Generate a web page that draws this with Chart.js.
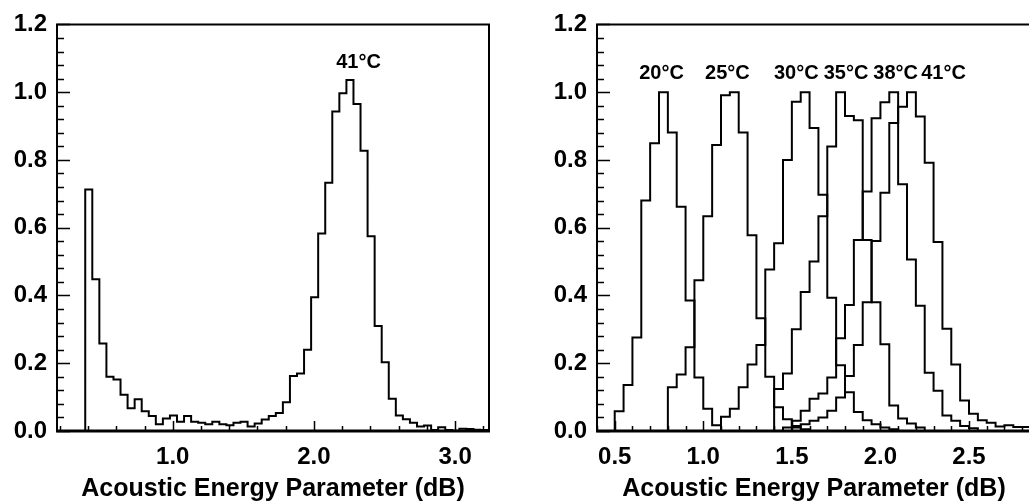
<!DOCTYPE html>
<html>
<head>
<meta charset="utf-8">
<script src="https://cdn.jsdelivr.net/npm/chart.js@4.4.0/dist/chart.umd.min.js"></script>
<style>
  html, body { margin: 0; padding: 0; background: #fff; overflow: hidden; width: 1029px; height: 502px; }
  .box { position: absolute; top: 0; height: 502px; }
  #left { left: 0; width: 491px; }
  #right { left: 540px; width: 493px; }
</style>
</head>
<body>
<div class="box" id="left"><canvas id="leftChart"></canvas></div>
<div class="box" id="right"><canvas id="rightChart"></canvas></div>
<script>
// histogram bins are 0.05 dB wide; each series = first bin edge + bin heights
const binWidth = 0.05;

// left panel: 41°C only
const leftStart = 0.38;
const left41 = [0.713, 0.448, 0.258, 0.160, 0.152, 0.107, 0.067, 0.094, 0.058, 0.044,
  0.020, 0.037, 0.046, 0.027, 0.044, 0.027, 0.024, 0.020, 0.027, 0.020,
  0.017, 0.024, 0.027, 0.013, 0.022, 0.034, 0.044, 0.053, 0.085, 0.162,
  0.170, 0.240, 0.395, 0.583, 0.733, 0.943, 0.997, 1.036, 0.965, 0.827,
  0.575, 0.310, 0.203, 0.095, 0.046, 0.035, 0.024, 0.013, 0.016, 0.003,
  0.011, 0.003, 0.001, 0.007, 0.006, 0.004, 0.003];

// right panel: one histogram per temperature
const tempLabels = ['20°C', '25°C', '30°C', '35°C', '38°C', '41°C'];
const tempStarts = [0.50, 0.80, 1.10, 1.40, 1.45, 1.50];
const h20 = [0.058, 0.136, 0.276, 0.680, 0.849, 1.000, 0.881, 0.662, 0.385, 0.158, 0.066, 0.017];
const h25 = [0.129, 0.167, 0.247, 0.445, 0.634, 0.844, 0.991, 1.000, 0.881, 0.578, 0.333, 0.160, 0.070, 0.035, 0.015, 0.005];
const h30 = [0.042, 0.066, 0.129, 0.196, 0.254, 0.477, 0.554, 0.800, 0.972, 1.000, 0.894, 0.697, 0.393, 0.194, 0.114, 0.056, 0.032, 0.020, 0.010, 0.005];
const h35 = [0.124, 0.170, 0.300, 0.410, 0.500, 0.634, 0.840, 1.000, 0.930, 0.917, 0.564, 0.380, 0.256, 0.075, 0.037, 0.022, 0.010];
const h38 = [0.010, 0.030, 0.060, 0.095, 0.111, 0.158, 0.274, 0.372, 0.564, 0.707, 0.923, 0.970, 1.000, 0.728, 0.506, 0.370, 0.172, 0.119, 0.046, 0.030, 0.015, 0.008];
const h41 = [0.010, 0.020, 0.030, 0.040, 0.060, 0.099, 0.162, 0.254, 0.380, 0.561, 0.703, 0.909, 0.957, 1.000, 0.928, 0.792, 0.558, 0.302, 0.196, 0.090, 0.051, 0.032, 0.024, 0.013, 0.017, 0.012, 0.012];
const rightSeries = [h20, h25, h30, h35, h38, h41];

// peak labels (data coords)
const leftLabelX = [2.316];
const leftLabelY = 1.087;
const rightLabelX = [0.764, 1.136, 1.525, 1.806, 2.086, 2.356];
const rightLabelY = 1.056;

const yTicks = [0, 0.2, 0.4, 0.6, 0.8, 1.0, 1.2];
const leftXTicks = [1.0, 2.0, 3.0];
const rightXTicks = [0.5, 1.0, 1.5, 2.0, 2.5];

const FONT = '"Liberation Sans", Arial, Helvetica, sans-serif';

// outline of a step histogram
function histPoints(start, heights) {
  const pts = [{ x: start, y: 0 }];
  heights.forEach((h, i) => pts.push({ x: start + i * binWidth, y: h }));
  pts.push({ x: start + heights.length * binWidth, y: 0 });
  return pts;
}

function histDataset(start, heights) {
  return {
    data: histPoints(start, heights),
    stepped: 'before',
    borderColor: '#000',
    borderWidth: 2,
    pointRadius: 0,
    fill: false,
    tension: 0
  };
}

// frame, inner ticks, peak labels
const framePlugin = {
  id: 'frame',
  afterDatasetsDraw(chart, args, opts) {
    const { ctx, chartArea: a, scales: { x, y } } = chart;
    ctx.save();
    ctx.strokeStyle = '#000';
    ctx.lineWidth = 2;
    ctx.beginPath();
    ctx.moveTo(a.left, a.bottom);
    ctx.lineTo(a.left, a.top);
    ctx.lineTo(a.right, a.top);
    if (opts.rightEdge) ctx.lineTo(a.right, a.bottom);
    ctx.stroke();
    ctx.lineWidth = 3;
    ctx.beginPath();
    ctx.moveTo(a.left - 1, a.bottom);
    ctx.lineTo(a.right + 1, a.bottom);
    ctx.stroke();

    ctx.lineWidth = 1.5;
    ctx.beginPath();
    for (let i = 0; i <= 30; i++) {
      const py = Math.round(y.getPixelForValue(i * 0.04)) + 0.5;
      const len = i % 5 === 0 ? 13 : 7;
      ctx.moveTo(a.left, py);
      ctx.lineTo(a.left + len, py);
    }
    const k0 = Math.ceil(x.min / opts.xMinor - 1e-6);
    const k1 = Math.floor(x.max / opts.xMinor + 1e-6);
    for (let k = k0; k <= k1; k++) {
      const v = k * opts.xMinor;
      const r = v / opts.xMajor;
      const major = Math.abs(r - Math.round(r)) < 1e-6;
      const px = Math.round(x.getPixelForValue(v)) + 0.5;
      ctx.moveTo(px, a.bottom);
      ctx.lineTo(px, a.bottom - (major ? 10 : 5));
    }
    ctx.stroke();

    ctx.fillStyle = '#000';
    ctx.font = 'bold 20px ' + FONT;
    ctx.textAlign = 'center';
    ctx.textBaseline = 'middle';
    opts.labels.forEach((t, i) => {
      ctx.fillText(t, x.getPixelForValue(opts.labelX[i]), y.getPixelForValue(opts.labelY));
    });
    ctx.restore();
  }
};

function makeOptions(xMin, xMax, xTicks, xMinor, xMajor, labels, labelX, labelY, rightEdge) {
  return {
    responsive: true,
    maintainAspectRatio: false,
    animation: false,
    layout: { padding: { top: 17, right: 2, left: 0, bottom: 0 } },
    plugins: {
      legend: { display: false },
      tooltip: { enabled: false },
      frame: { xMinor, xMajor, labels, labelX, labelY, rightEdge }
    },
    scales: {
      x: {
        type: 'linear',
        min: xMin,
        max: xMax,
        afterFit: s => { s.height = 71; },
        afterBuildTicks: s => { s.ticks = xTicks.map(v => ({ value: v })); },
        grid: { display: false, drawTicks: false },
        border: { display: false },
        ticks: {
          autoSkip: false,
          maxRotation: 0,
          padding: 12,
          color: '#000',
          font: { family: FONT, size: 24, weight: 'bold' },
          callback: v => Number(v).toFixed(1)
        },
        title: {
          display: true,
          text: 'Acoustic Energy Parameter (dB)',
          color: '#000',
          font: { family: FONT, size: 25, weight: 'bold', lineHeight: 1.04 },
          padding: { top: 0, bottom: 0 }
        }
      },
      y: {
        min: 0,
        max: 1.2,
        afterFit: s => { s.width = 57; },
        afterBuildTicks: s => { s.ticks = yTicks.map(v => ({ value: v })); },
        grid: { display: false, drawTicks: false },
        border: { display: false },
        ticks: {
          autoSkip: false,
          padding: 10,
          color: '#000',
          font: { family: FONT, size: 24, weight: 'bold' },
          callback: v => Number(v).toFixed(1)
        }
      }
    }
  };
}

new Chart(document.getElementById('leftChart'), {
  type: 'line',
  data: { datasets: [histDataset(leftStart, left41)] },
  options: makeOptions(0.18, 3.24, leftXTicks, 0.2, 1.0, ['41°C'], leftLabelX, leftLabelY, true),
  plugins: [framePlugin]
});

new Chart(document.getElementById('rightChart'), {
  type: 'line',
  data: { datasets: rightSeries.map((h, i) => histDataset(tempStarts[i], h)) },
  options: makeOptions(0.40, 2.85, rightXTicks, 0.1, 0.5, tempLabels, rightLabelX, rightLabelY, false),
  plugins: [framePlugin]
});
</script>
</body>
</html>
